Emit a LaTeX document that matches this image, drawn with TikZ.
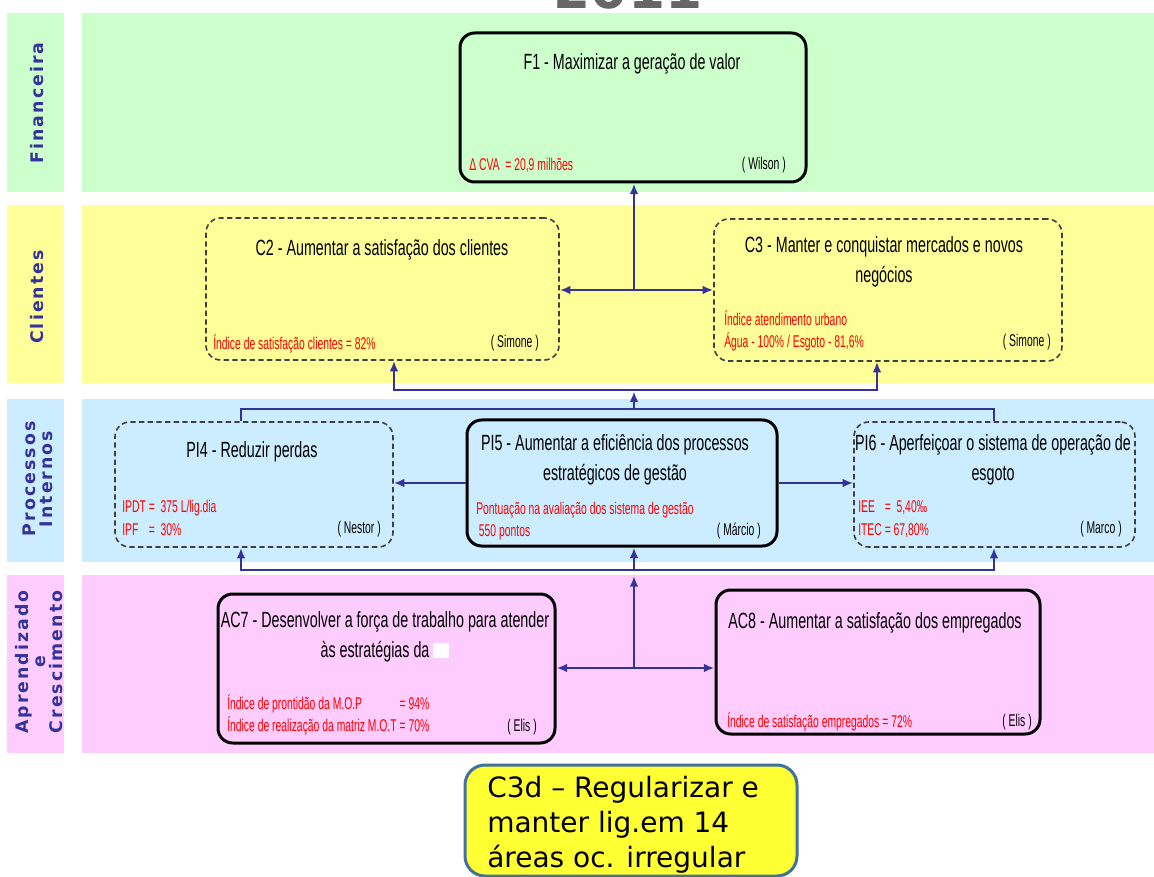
\documentclass[tikz,border=0pt]{standalone}
\usepackage{fontspec}
\setmainfont{Liberation Sans}
\newfontfamily\ttlfont[FakeStretch=0.65]{Liberation Sans}
\newfontfamily\redfont[FakeStretch=0.61]{Liberation Sans}
\newfontfamily\lblfont[LetterSpace=12]{DejaVu Sans}
\newfontfamily\djfont{DejaVu Sans}
\usetikzlibrary{arrows.meta}
\definecolor{fingreen}{HTML}{CCFFCC}
\definecolor{cliyellow}{HTML}{FFFF99}
\definecolor{problue}{HTML}{CCECFF}
\definecolor{aprpink}{HTML}{FFCCFF}
\definecolor{navy}{HTML}{333399}
\definecolor{dashgray}{HTML}{404040}
\definecolor{redtxt}{HTML}{FF0000}
\definecolor{c3dfill}{HTML}{FFFF33}
\definecolor{c3dedge}{HTML}{41719C}
\definecolor{yeargray}{HTML}{666666}
\begin{document}
\begin{tikzpicture}[x=0.75pt,y=-0.75pt,
  sbox/.style={draw=black, line width=2.25pt, rounded corners=11pt, inner sep=0pt},
  dbox/.style={draw=dashgray, line width=1.2pt, dash pattern=on 4pt off 2.5pt, rounded corners=11pt, inner sep=0pt},
  ttl/.style={font=\ttlfont\fontsize{16.5}{22.5}\selectfont, align=center, inner sep=0pt, text=black},
  kpi/.style={font=\redfont\fontsize{12.75}{16.9}\selectfont, align=left, inner sep=0pt, text=redtxt, anchor=west},
  own/.style={font=\redfont\fontsize{12.75}{16.9}\selectfont, inner sep=0pt, text=black, anchor=east},
  lbl/.style={font=\lblfont\bfseries\fontsize{13}{12.75}\selectfont, text=navy, rotate=90, align=center, inner sep=0pt},
  arr/.style={draw=navy, line width=1.9pt, -{Latex[length=8pt,width=6.5pt]}},
  darr/.style={draw=navy, line width=1.9pt, {Latex[length=8pt,width=6.5pt]}-{Latex[length=8pt,width=6.5pt]}},
  bus/.style={draw=navy, line width=2pt, line join=miter}]
\useasboundingbox (0,0) rectangle (1154,877);
\fill[white] (0,0) rectangle (1154,877);
% bands
\fill[fingreen] (7,13) rectangle (64,192);
\fill[fingreen] (82,13) rectangle (1154,192);
\fill[cliyellow] (7,205) rectangle (64,383);
\fill[cliyellow] (82,205) rectangle (1154,383);
\fill[problue] (7,399) rectangle (64,562);
\fill[problue] (82,399) rectangle (1154,562);
\fill[aprpink] (7,575) rectangle (64,753);
\fill[aprpink] (82,575) rectangle (1154,753);
% cut-off year (cut by the top edge, as in the reference)
\begin{scope}
\clip (0,0) rectangle (1154,877);
\node[font=\djfont\bfseries\fontsize{40}{40}\selectfont, text=yeargray, anchor=base, inner sep=0pt] (year) at (628,9) {2011};
\end{scope}
% perspective labels
\node[lbl] (lFin) at (37,103) {Financeira};
\node[lbl] (lCli) at (37,297) {Clientes};
\node[lbl] (lPro) at (38,479) {Processos\\Internos};
\node[lbl] (lApr) at (39,662) {Aprendizado\\e\\Crescimento};
% F1
\node[sbox, minimum width=259.5pt, minimum height=111.75pt] (F1) at (633,107.5) {};
\node[ttl] (F1t) at (632,64) {F1 - Maximizar a geração de valor};
\node[kpi] (F1k) at (469,165) {Δ CVA \ = 20,9 milhões};
\node[own] (F1o) at (786,165) {( Wilson )};
% C2
\node[dbox, minimum width=264.75pt, minimum height=106.5pt] (C2) at (382.5,289) {};
\node[ttl] (C2t) at (382,250) {C2 - Aumentar a satisfação dos clientes};
\node[kpi] (C2k) at (213,344) {Índice de satisfação clientes = 82\%};
\node[own] (C2o) at (539,343) {( Simone )};
% C3
\node[dbox, minimum width=261pt, minimum height=106.5pt] (C3) at (888,290) {};
\node[ttl] (C3t) at (884,262) {C3 - Manter e conquistar mercados e novos\\negócios};
\node[kpi] (C3k) at (724,331) {Índice atendimento urbano\\Água - 100\% / Esgoto - 81,6\%};
\node[own] (C3o) at (1051,342) {( Simone )};
% PI4
\node[dbox, minimum width=208.5pt, minimum height=93.75pt] (PI4) at (254,484.5) {};
\node[ttl] (PI4t) at (252,452) {PI4 - Reduzir perdas};
\node[kpi] (PI4k) at (122,519.5) {\begin{tabular}{@{}l@{\ }l@{}}IPDT &= \ 375 L/lig.dia\\IPF &= \ 30\%\end{tabular}};
\node[own] (PI4o) at (381,529) {( Nestor )};
% PI5
\node[sbox, minimum width=232.5pt, minimum height=94.5pt] (PI5) at (622,483) {};
\node[ttl] (PI5t) at (615,460) {PI5 - Aumentar a eficiência dos processos\\estratégicos de gestão};
\node[kpi] (PI5k) at (476,521) {Pontuação na avaliação dos sistema de gestão\\\hspace*{2pt}550 pontos};
\node[own] (PI5o) at (761,531) {( Márcio )};
% PI6
\node[dbox, minimum width=210.75pt, minimum height=93.75pt] (PI6) at (994.5,484.5) {};
\node[ttl] (PI6t) at (993,460) {PI6 - Aperfeiçoar o sistema de operação de\\esgoto};
\node[kpi] (PI6k) at (858,519.5) {\begin{tabular}{@{}l@{\ }l@{}}IEE &= \ 5,40‰\\ITEC &= 67,80\%\end{tabular}};
\node[own] (PI6o) at (1122,529) {( Marco )};
% AC7
\node[sbox, minimum width=252.75pt, minimum height=111.75pt] (AC7) at (386.5,668.5) {};
\node[ttl] (AC7t) at (385,637) {AC7 - Desenvolver a força de trabalho para atender\\às estratégias da \textcolor{white}{\rule[-0.5pt]{12pt}{11.5pt}}};
\node[kpi] (AC7k) at (227,716) {\begin{tabular}{@{}l@{\ }l@{}}Índice de prontidão da M.O.P &= 94\%\\Índice de realização da matriz M.O.T &= 70\%\end{tabular}};
\node[own] (AC7o) at (537,727) {( Elis )};
% AC8
\node[sbox, minimum width=243pt, minimum height=108pt] (AC8) at (878,662) {};
\node[ttl] (AC8t) at (875,623) {AC8 - Aumentar a satisfação dos empregados};
\node[kpi] (AC8k) at (727,722) {Índice de satisfação empregados = 72\%};
\node[own] (AC8o) at (1032,722) {( Elis )};
% C3d
\node[draw=c3dedge, line width=2.25pt, fill=c3dfill, rounded corners=15pt, minimum width=249pt, minimum height=83.25pt, inner sep=0pt] (C3d) at (631,820.5) {};
\node[font=\djfont\fontsize{21}{26.25}\selectfont, align=left, anchor=west, inner sep=0pt] (C3dt) at (487,825) {C3d – Regularizar e\\manter lig.em 14\\áreas oc. irregular};
% connectors
\coordinate (jC) at (634,290);
\draw[darr] (C2.east |- jC) -- (C3.west |- jC);
\draw[arr] (jC) -- (jC |- F1.south);
\coordinate (b1L) at (394,390);
\coordinate (b1M) at (634,390);
\coordinate (b1R) at (877,390);
\draw[arr] (b1M) -| (b1L |- C2.south);
\draw[arr] (b1M) -| (b1R |- C3.south);
\coordinate (b2L) at (241,409);
\coordinate (b2M) at (634,409);
\coordinate (b2R) at (994,409);
\draw[bus] (b2L |- PI4.north) -- (b2L) -- (b2R) -- (b2R |- PI6.north);
\draw[arr] (b2M) -- ([yshift=-1pt]b1M);
\draw[arr] (PI5.west) -- (PI5.west -| PI4.east);
\draw[arr] (PI5.east) -- (PI5.east -| PI6.west);
\coordinate (b3L) at (241,570);
\coordinate (b3M) at (634,570);
\coordinate (b3R) at (994,570);
\draw[arr] (b3M) -| (b3L |- PI4.south);
\draw[arr] (b3M) -| (b3R |- PI6.south);
\draw[arr] (b3M) -- (b3M |- PI5.south);
\coordinate (jA) at (634,668);
\draw[darr] (AC7.east |- jA) -- (AC8.west |- jA);
\draw[arr] (jA) -- ([yshift=-4.5pt]b3M);
\end{tikzpicture}
\end{document}
